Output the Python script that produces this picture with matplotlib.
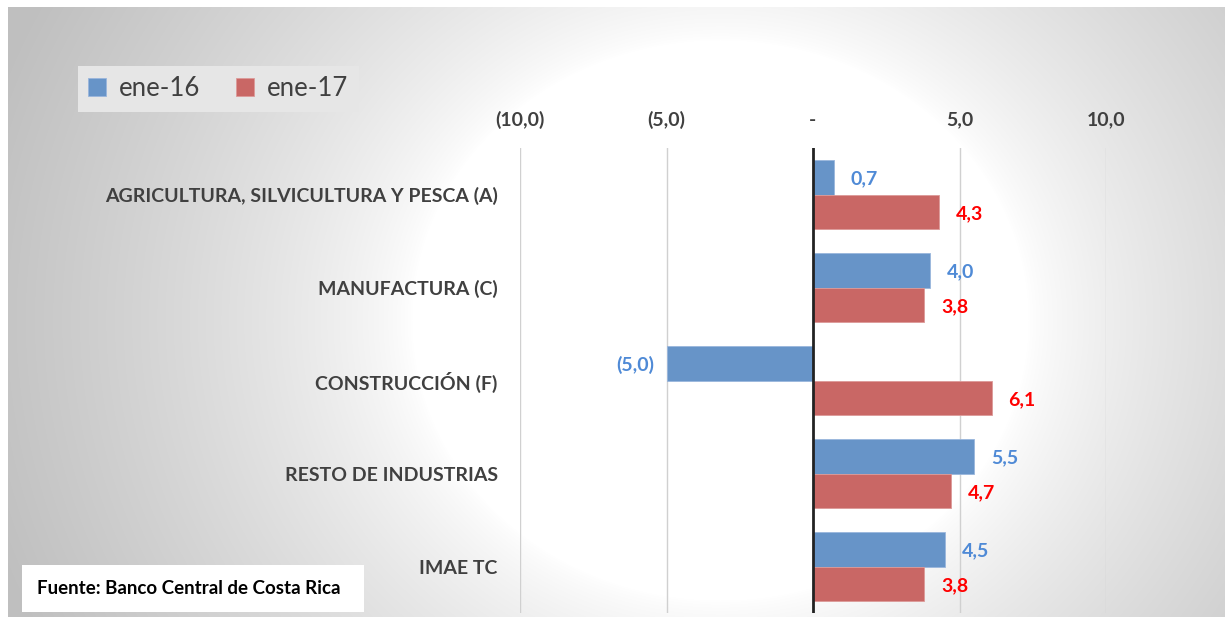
import numpy as np
import matplotlib.pyplot as plt
from matplotlib.ticker import FuncFormatter

categories = ["AGRICULTURA, SILVICULTURA Y PESCA (A)", "MANUFACTURA (C)",
              "CONSTRUCCIÓN (F)", "RESTO DE INDUSTRIAS", "IMAE TC"]
ene16 = [0.7, 4.0, -5.0, 5.5, 4.5]
ene17 = [4.3, 3.8, 6.1, 4.7, 3.8]
series_names = ["ene-16", "ene-17"]
x_ticks = [-10, -5, 0, 5, 10]

blue = "#6794c8"
red = "#c96765"
blue_lbl = "#4f8ad6"
red_lbl = "#ff0000"
FONT = "Lato"

def fmt(v, pos=None):
    if abs(v) < 1e-9:
        return "-"
    s = f"{abs(v):.1f}".replace(".", ",")
    return f"({s})" if v < 0 else s

W, H = 1225, 617
fig = plt.figure(figsize=(W / 100, H / 100), dpi=100)

# radial gradient background
bg = fig.add_axes([0, 0, 1, 1])
yy, xx = np.mgrid[0:H, 0:W]
d = np.sqrt(((xx - 720) / 1.1) ** 2 + (yy - 320) ** 2)
v = 255 - 64 * np.clip((d - 280) / 420, 0, 1) ** 0.75
img = np.dstack([v, v, v]) / 255.0
img[:7, :] = 1.0
img[:, :8] = 1.0
bg.imshow(img, extent=[0, W, H, 0], aspect="auto", interpolation="bilinear")
bg.set_xlim(0, W)
bg.set_ylim(H, 0)
bg.axis("off")

ax = fig.add_axes([520 / W, 1 - 613 / H, (1106 - 520) / W, (613 - 148) / H])
ax.patch.set_alpha(0)

y = np.arange(len(categories))
h = 0.375
b1 = ax.barh(y - h / 2, ene16, height=h, color=blue, edgecolor="#9ab6dc", linewidth=0.6, zorder=3)
b2 = ax.barh(y + h / 2, ene17, height=h, color=red, edgecolor="#dc9a98", linewidth=0.6, zorder=3)

for bars, vals, col in [(b1, ene16, blue_lbl), (b2, ene17, red_lbl)]:
    for bar, val in zip(bars, vals):
        cy = bar.get_y() + bar.get_height() / 2
        if val >= 0:
            ax.annotate(fmt(val), (val, cy), xytext=(12, -1.5), textcoords="offset points",
                        ha="left", va="center", color=col, fontsize=14,
                        fontweight="bold", family=FONT)
        else:
            ax.annotate(fmt(val), (val, cy), xytext=(-9, -1.5), textcoords="offset points",
                        ha="right", va="center", color=col, fontsize=14,
                        fontweight="bold", family=FONT)

ax.set_xlim(-10, 10)
ax.set_ylim(len(categories) - 0.5, -0.5)
ax.set_xticks(x_ticks)
ax.xaxis.set_major_formatter(FuncFormatter(fmt))
ax.xaxis.tick_top()
ax.tick_params(axis="x", length=0, pad=14, labelsize=14, labelcolor="#404040")
ax.tick_params(axis="y", length=0, pad=16, labelsize=14, labelcolor="#404040")
ax.set_yticks(y)
ax.set_yticklabels(categories)
for t in ax.get_xticklabels() + ax.get_yticklabels():
    t.set_fontweight("bold")
    t.set_family(FONT)
for s in ax.spines.values():
    s.set_visible(False)
for xt in x_ticks:
    if xt != 0:
        ax.axvline(xt, color="#d0d0d0", linewidth=1, zorder=1)
ax.axvline(0, color="#222222", linewidth=2, zorder=4)

# legend box
leg = ax.legend([b1, b2], series_names, loc="upper left",
                bbox_to_anchor=(78 / W, 1 - 66 / H), bbox_transform=fig.transFigure,
                ncol=2, frameon=True, fancybox=False, handlelength=0.7, handleheight=0.7,
                handletextpad=0.5, columnspacing=1.4, borderpad=0.4, borderaxespad=0,
                prop={"family": FONT, "size": 18.5})
leg.get_frame().set_facecolor("#e6e6e6")
leg.get_frame().set_edgecolor("none")
leg.get_frame().set_alpha(1)
for t in leg.get_texts():
    t.set_color("#404040")

# source box
fig.patches.append(plt.Rectangle((22 / W, 1 - 612 / H), (364 - 22) / W, (612 - 565) / H,
                                 transform=fig.transFigure, facecolor="white",
                                 edgecolor="none", zorder=5))
fig.text(37 / W, 1 - 588 / H, "Fuente: Banco Central de Costa Rica", ha="left", va="center",
         fontsize=13.5, fontweight="bold", family=FONT, color="black", zorder=6)

fig.savefig("out.png", dpi=100)
